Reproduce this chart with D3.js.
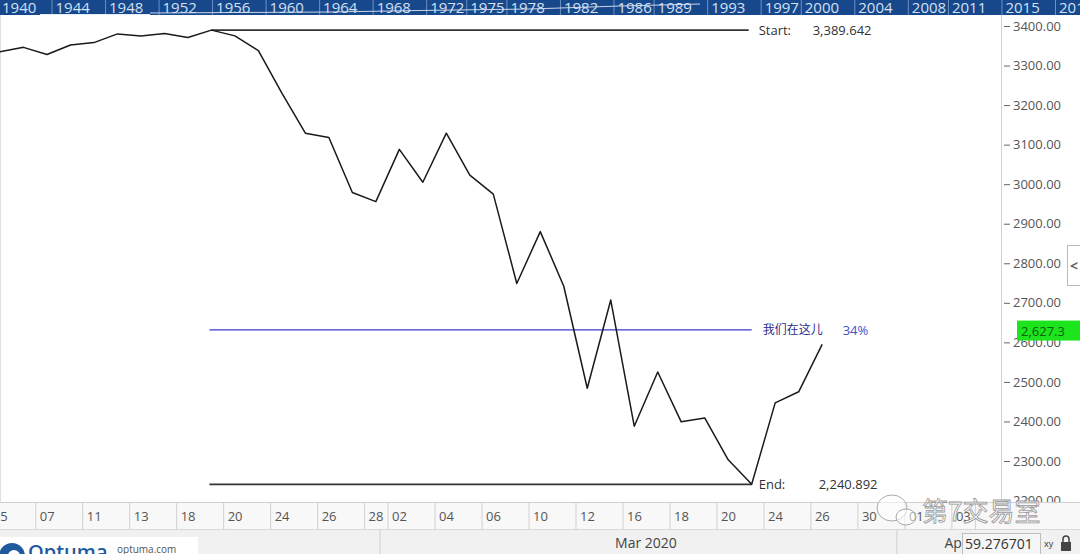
<!DOCTYPE html>
<html><head><meta charset="utf-8">
<script src="https://cdn.jsdelivr.net/npm/d3@7"></script>
<style>
body{margin:0;background:#fff;overflow:hidden;}
svg{display:block;font-family:"Open Sans",sans-serif;}
</style>
</head><body>
<svg id="c" width="1080" height="554"></svg>
<script>
// ---------- data ----------
const tradingDays = ["2020-02-05","2020-02-06","2020-02-07","2020-02-10","2020-02-11","2020-02-12","2020-02-13","2020-02-14","2020-02-18","2020-02-19","2020-02-20","2020-02-21","2020-02-24","2020-02-25","2020-02-26","2020-02-27","2020-02-28","2020-03-02","2020-03-03","2020-03-04","2020-03-05","2020-03-06","2020-03-09","2020-03-10","2020-03-11","2020-03-12","2020-03-13","2020-03-16","2020-03-17","2020-03-18","2020-03-19","2020-03-20","2020-03-23","2020-03-24","2020-03-25","2020-03-26","2020-03-27","2020-03-30","2020-03-31","2020-04-01","2020-04-02","2020-04-03","2020-04-06"];
const closes = [3335,3346,3328,3352,3358,3380,3375,3381,3371,3389.6,3375,3338,3230,3129,3118,2979,2956,3088,3005,3129,3023,2975,2749,2880,2742,2484,2707,2388,2525,2399,2409,2303,2241,2447,2475,2595];
const tickDates = ["2020-02-05","2020-02-07","2020-02-11","2020-02-13","2020-02-18","2020-02-20","2020-02-24","2020-02-26","2020-02-28","2020-03-02","2020-03-04","2020-03-06","2020-03-10","2020-03-12","2020-03-16","2020-03-18","2020-03-20","2020-03-24","2020-03-26","2020-03-30","2020-04-01","2020-04-03"];
const monthStarts = ["2020-03-02","2020-04-01"];
const monthLabels = ["Mar 2020","Apr 2020"];
const yTicks = [2200,2300,2400,2500,2600,2700,2800,2900,3000,3100,3200,3300,3400];
const overviewYears = [1940,1944,1948,1952,1956,1960,1964,1968,1972,1975,1978,1982,1986,1989,1993,1997,2000,2004,2008,2011,2015,2019];
const startDate = "2020-02-19", startValue = 3389.642;
const endDate = "2020-03-23", endValue = 2240.892;
const retraceRatio = 0.34;
const lastValue = 2627.3;
const startLabel = "Start:", endLabel = "End:";
const hereLabel = "我们在这儿";
const cursorValue = "59.276701";

// ---------- layout ----------
const svg = d3.select("#c");
const W = 1080, H = 554;
const plotRight = 1001, plotTop = 15, stripTop = 502, stripBottom = 530;
const x = d3.scaleLinear().domain([0, 42]).range([0, 986.6]);
const step = x(1) - x(0);
const y = d3.scaleLinear().domain([2300, 3400]).range([461, 26]);
const di = d => tradingDays.indexOf(d);
const parse = d3.timeParse("%Y-%m-%d");

svg.append("rect").attr("width", W).attr("height", H).attr("fill", "#fff");

svg.append("defs").append("clipPath").attr("id", "plotclip")
  .append("rect").attr("x", 0).attr("y", plotTop).attr("width", plotRight).attr("height", stripTop - plotTop);

// plot borders
svg.append("line").attr("x1", plotRight + 0.5).attr("x2", plotRight + 0.5).attr("y1", plotTop).attr("y2", stripTop)
  .attr("stroke", "#d4d4d4");
svg.append("line").attr("x1", 0.5).attr("x2", 0.5).attr("y1", plotTop).attr("y2", stripTop).attr("stroke", "#e0e0e0");

// y axis
const yAxis = d3.axisRight(y).tickValues(yTicks).tickFormat(d3.format(".2f")).tickSize(6).tickPadding(3);
const yg = svg.append("g").attr("transform", `translate(1004,0)`).call(yAxis);
yg.select(".domain").remove();
yg.selectAll(".tick line").attr("stroke", "#666");
yg.selectAll(".tick text").attr("fill", "#555").attr("font-size", 13).attr("font-family", '"Open Sans",sans-serif');

// plot contents
const plot = svg.append("g").attr("clip-path", "url(#plotclip)");
const iS = di(startDate), iE = di(endDate);
const hereValue = endValue + retraceRatio * (startValue - endValue);

plot.append("line").attr("x1", x(iS)).attr("x2", x(iE) - 3).attr("y1", y(startValue)).attr("y2", y(startValue))
  .attr("stroke", "#333").attr("stroke-width", 1.6);
plot.append("line").attr("x1", x(iS) - 2).attr("x2", x(iE)).attr("y1", y(endValue)).attr("y2", y(endValue))
  .attr("stroke", "#333").attr("stroke-width", 1.6);
plot.append("line").attr("x1", x(iS) - 2).attr("x2", x(iE)).attr("y1", y(hereValue)).attr("y2", y(hereValue))
  .attr("stroke", "#3a3ad0").attr("stroke-width", 1.3);

plot.append("path").datum(closes)
  .attr("d", d3.line().x((d, i) => x(i)).y(d => y(d)))
  .attr("fill", "none").attr("stroke", "#1a1a1a").attr("stroke-width", 1.5).attr("stroke-linejoin", "round");

// annotations
const fmt3 = d3.format(",.3f");
const ann = svg.append("g").attr("font-size", 13).attr("fill", "#333");
ann.append("text").attr("x", x(iE) + 7).attr("y", y(startValue) + 5).text(startLabel);
ann.append("text").attr("x", x(iE) + 61).attr("y", y(startValue) + 5).text(fmt3(startValue));
ann.append("text").attr("x", x(iE) + 7).attr("y", y(endValue) + 5).text(endLabel);
ann.append("text").attr("x", x(iE) + 67).attr("y", y(endValue) + 5).text(fmt3(endValue));
ann.append("text").attr("x", x(iE) + 11).attr("y", y(hereValue) + 4)
  .attr("font-family", '"Noto Sans CJK SC",sans-serif').attr("font-size", 12).attr("fill", "#2b2b8a").text(hereLabel);
ann.append("text").attr("x", x(iE) + 91).attr("y", y(hereValue) + 5)
  .attr("font-size", 13).attr("fill", "#3a55d0").text(d3.format(".0%")(retraceRatio));

// last value badge
svg.append("rect").attr("x", 1017).attr("y", y(lastValue) - 11).attr("width", 63).attr("height", 20).attr("fill", "#1de51d");
svg.append("text").attr("x", 1021).attr("y", y(lastValue) + 4).attr("font-size", 13).attr("fill", "#0b5e0b")
  .text(d3.format(",.1f")(lastValue));

// small collapse button
svg.append("rect").attr("x", 1067.5).attr("y", 245.5).attr("width", 14).attr("height", 40).attr("fill", "#fff").attr("stroke", "#bbb");
svg.append("text").attr("x", 1070).attr("y", 271).attr("font-size", 14).attr("font-weight", "bold").attr("fill", "#666").text("<");

// top overview bar
const topBar = svg.append("g");
topBar.append("rect").attr("width", W).attr("height", plotTop).attr("fill", "#17488c");
const xy = d3.scaleLinear().domain([1940, 2019]).range([1, 1058]);
topBar.selectAll("line.sep").data(overviewYears).join("line")
  .attr("x1", d => xy(d) - 2.5).attr("x2", d => xy(d) - 2.5).attr("y1", 0).attr("y2", plotTop)
  .attr("stroke", "#6d8fc2").attr("stroke-width", 1);
topBar.append("line").attr("x1", 40).attr("x2", 150).attr("y1", 14.5).attr("y2", 14.5).attr("stroke", "#e8eef8").attr("stroke-width", 1);
topBar.append("path").attr("d", d3.line()([[150, 13], [330, 12], [420, 10.5], [530, 9], [620, 6], [700, 4]]))
  .attr("fill", "none").attr("stroke", "#e8eef8").attr("stroke-width", 1).attr("opacity", 0.85);
topBar.selectAll("text").data(overviewYears).join("text")
  .attr("x", d => xy(d) + 1).attr("y", 12.5).attr("font-size", 15).attr("fill", "#d3e0f2").text(d => d);

// date strip
svg.append("rect").attr("x", 0).attr("y", stripTop).attr("width", W).attr("height", stripBottom - stripTop).attr("fill", "#f8f8f8");
svg.append("line").attr("x1", 0).attr("x2", W).attr("y1", stripTop + 0.5).attr("y2", stripTop + 0.5).attr("stroke", "#d0d0d0");
svg.append("line").attr("x1", 0).attr("x2", W).attr("y1", stripBottom - 0.5).attr("y2", stripBottom - 0.5).attr("stroke", "#d8d8d8");
const tickIdx = tickDates.map(di);
const xAxis = d3.axisBottom(x).tickValues(tickIdx).tickSize(0).tickPadding(0)
  .tickFormat(i => d3.timeFormat("%d")(parse(tradingDays[i])));
const xg = svg.append("g").attr("transform", `translate(0,${stripTop})`).call(xAxis);
xg.select(".domain").remove();
xg.selectAll(".tick text").attr("text-anchor", "start").attr("x", -step / 2 + 4).attr("y", 10)
  .attr("dy", "0.71em").attr("fill", "#555").attr("font-size", 13).attr("font-family", '"Open Sans",sans-serif');
xg.selectAll(".tick").append("line").attr("x1", -step / 2).attr("x2", -step / 2).attr("y1", 0).attr("y2", stripBottom - stripTop)
  .attr("stroke", "#d0d0d0");
svg.append("line").attr("x1", x(42) - step / 2 + 0.5).attr("x2", x(42) - step / 2 + 0.5).attr("y1", stripTop).attr("y2", stripBottom).attr("stroke", "#d0d0d0");

// bottom bar
svg.append("rect").attr("x", 0).attr("y", stripBottom).attr("width", W).attr("height", H - stripBottom).attr("fill", "#f1f1f1");
const msX = monthStarts.map(d => x(di(d)) - step / 2);
svg.selectAll("line.month").data(msX).join("line")
  .attr("x1", d => d - 7.5).attr("x2", d => d - 7.5).attr("y1", stripBottom).attr("y2", H).attr("stroke", "#cfcfcf");
svg.append("text").attr("x", (msX[0] + msX[1]) / 2).attr("y", 548).attr("text-anchor", "middle")
  .attr("font-size", 14).attr("fill", "#444").text(monthLabels[0]);
svg.append("text").attr("x", msX[1] + 40).attr("y", 548)
  .attr("font-size", 14).attr("fill", "#444").text(monthLabels[1]);

// cursor readout
svg.append("rect").attr("x", 962.5).attr("y", 533.5).attr("width", 78).attr("height", 22).attr("fill", "#f6f6f6").attr("stroke", "#bdbdbd");
svg.append("text").attr("x", 965).attr("y", 549).attr("font-size", 14).attr("fill", "#333").text(cursorValue);
svg.append("text").attr("x", 1044).attr("y", 547).attr("font-size", 9).attr("fill", "#333").text("xy");
svg.append("rect").attr("x", 1061).attr("y", 542).attr("width", 10).attr("height", 9).attr("fill", "#444");
svg.append("path").attr("d", "M1063,542 v-3 a3,3 0 0 1 6,0 v3").attr("fill", "none").attr("stroke", "#444").attr("stroke-width", 1.5);

// logo
svg.append("rect").attr("x", 0).attr("y", 537).attr("width", 198).attr("height", 17).attr("fill", "#fff");
svg.append("circle").attr("cx", 12).attr("cy", 556).attr("r", 13).attr("fill", "#1f5a9e");
svg.append("circle").attr("cx", 14).attr("cy", 556).attr("r", 6).attr("fill", "#fff");
svg.append("text").attr("x", 28).attr("y", 559).attr("font-size", 20).attr("font-weight", 600).attr("fill", "#1f5a9e").text("Optuma");
svg.append("text").attr("x", 117).attr("y", 553).attr("font-size", 10).attr("fill", "#555").text("optuma.com");

// watermark
const wm = svg.append("g");
wm.append("ellipse").attr("cx", 892).attr("cy", 508).attr("rx", 15).attr("ry", 13)
  .attr("fill", "rgba(255,255,255,0.55)").attr("stroke", "#aaa").attr("stroke-width", 1);
wm.append("ellipse").attr("cx", 906).attr("cy", 517).attr("rx", 10).attr("ry", 8)
  .attr("fill", "rgba(255,255,255,0.55)").attr("stroke", "#aaa").attr("stroke-width", 1);
wm.append("text").attr("x", 922).attr("y", 521).attr("font-size", 26)
  .attr("font-family", '"Noto Sans CJK SC",sans-serif')
  .attr("fill", "rgba(255,255,255,0.6)").attr("stroke", "#999").attr("stroke-width", 0.8).text("第7交易室");
</script>
</body></html>
